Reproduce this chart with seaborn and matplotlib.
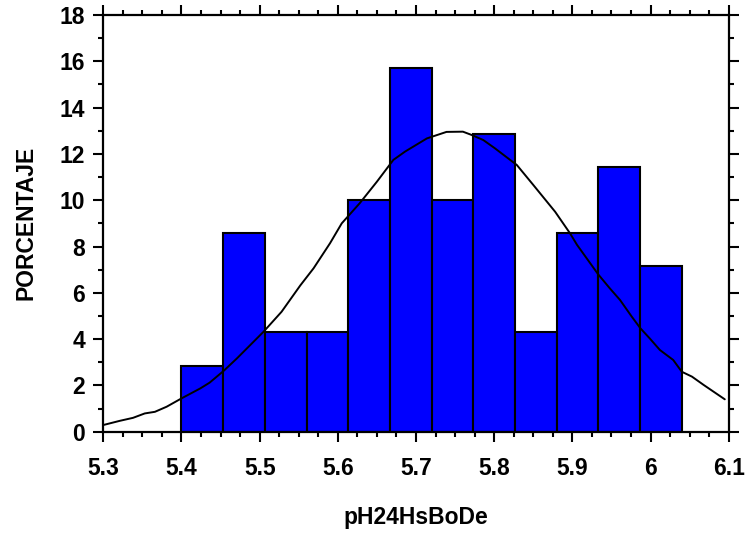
import numpy as np
import pandas as pd
import matplotlib
matplotlib.use("Agg")
import matplotlib.pyplot as plt
from matplotlib.ticker import MultipleLocator, FormatStrFormatter
import seaborn as sns

# ---- data ----
bin_start = 5.4
bin_width = 0.05333
percentages = [2.857, 8.571, 4.286, 4.286, 10.0, 15.714, 10.0, 12.857,
               4.286, 8.571, 11.429, 7.143]

curve_x = [5.300, 5.321, 5.338, 5.353, 5.366, 5.381, 5.400, 5.424, 5.436,
           5.454, 5.471, 5.505, 5.528, 5.552, 5.569, 5.590, 5.605, 5.628,
           5.650, 5.671, 5.686, 5.714, 5.739, 5.760, 5.771, 5.786, 5.801,
           5.829, 5.850, 5.878, 5.897, 5.906, 5.933, 5.948, 5.961, 5.976,
           5.987, 5.999, 6.012, 6.029, 6.040, 6.053, 6.068, 6.095]
curve_y = [0.29, 0.47, 0.60, 0.79, 0.86, 1.08, 1.44, 1.87, 2.12,
           2.63, 3.17, 4.32, 5.18, 6.32, 7.06, 8.14, 9.00, 9.87,
           10.80, 11.74, 12.10, 12.67, 12.95, 12.96, 12.82, 12.60, 12.24,
           11.52, 10.66, 9.50, 8.57, 8.07, 6.80, 6.19, 5.69, 4.97,
           4.47, 4.03, 3.53, 3.10, 2.59, 2.38, 2.02, 1.40]

x_label = "pH24HsBoDe"
y_label = "PORCENTAJE"

# ---- build helper tables ----
n_bins = len(percentages)
edges = [bin_start + i * bin_width for i in range(n_bins + 1)]
centers = [(edges[i] + edges[i + 1]) / 2 for i in range(n_bins)]
hist_df = pd.DataFrame({"x": centers, "pct": percentages})
curve_df = pd.DataFrame({"x": curve_x, "y": curve_y})

sns.set_theme(style="white")
plt.rcParams["font.family"] = ["Liberation Sans", "DejaVu Sans"]
plt.rcParams["font.weight"] = "bold"
plt.rcParams["text.color"] = "black"
plt.rcParams["axes.labelcolor"] = "black"
plt.rcParams["xtick.color"] = "black"
plt.rcParams["ytick.color"] = "black"

FS = 16.5

fig = plt.figure(figsize=(7.47, 5.33), dpi=100)
ax = fig.add_axes([0.1383, 0.190, 0.8372, 0.7819])

sns.histplot(data=hist_df, x="x", weights="pct", bins=edges, stat="count",
             color="#0000ff", alpha=1.0, edgecolor="black", linewidth=1.5,
             ax=ax)
sns.lineplot(data=curve_df, x="x", y="y", sort=False, estimator=None,
             color="black", linewidth=1.4, ax=ax)

ax.set_xlim(5.3, 6.1)
ax.set_ylim(0, 18)
ax.xaxis.set_major_locator(MultipleLocator(0.1))
ax.xaxis.set_minor_locator(MultipleLocator(0.025))
ax.yaxis.set_major_locator(MultipleLocator(2))
ax.yaxis.set_minor_locator(MultipleLocator(1))

def fmt_x(v, pos):
    s = f"{v:.1f}"
    if s.endswith(".0"):
        s = s[:-2]
    return s
ax.xaxis.set_major_formatter(plt.FuncFormatter(fmt_x))
ax.yaxis.set_major_formatter(FormatStrFormatter("%d"))

for sp in ax.spines.values():
    sp.set_visible(True)
    sp.set_color("black")
    sp.set_linewidth(1.6)

ax.tick_params(which="both", direction="out", top=True, right=True,
               bottom=True, left=True, labeltop=False, labelright=False,
               color="black", width=1.5)
ax.tick_params(which="major", length=7.2, labelsize=FS)
ax.tick_params(which="minor", length=3.6)
ax.tick_params(axis="x", which="major", pad=11)
ax.tick_params(axis="y", which="major", pad=6)
for lab in ax.get_xticklabels() + ax.get_yticklabels():
    lab.set_fontweight("bold")
    lab.set_color("black")

ax.set_xlabel(x_label, fontsize=FS, fontweight="bold", color="black")
ax.set_ylabel(y_label, fontsize=FS, fontweight="bold", color="black")
ax.xaxis.set_label_coords(0.5, -0.178)
ax.xaxis.label.set_va("top")
ax.yaxis.set_label_coords(-0.106, 0.5)
ax.grid(False)

fig.savefig("out.png", dpi=100)
